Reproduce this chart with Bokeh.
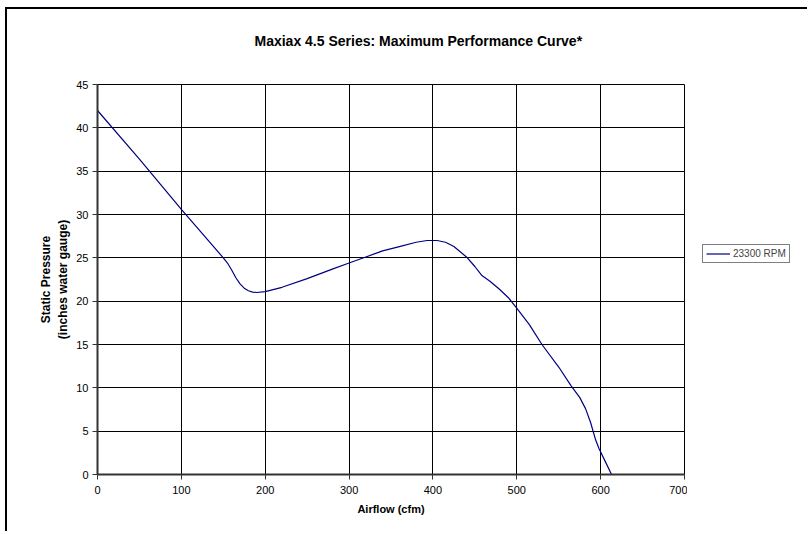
from bokeh.plotting import figure
from bokeh.models import Range1d, Legend, LegendItem, FixedTicker, Title
from bokeh.layouts import row
from bokeh.embed import file_html
from bokeh.resources import INLINE

airflow = [0, 50, 100, 150, 155, 160, 165, 170, 175, 180, 185, 190, 200, 220, 250, 280,
           300, 320, 340, 360, 380, 393, 405, 415, 425, 440, 450, 458, 468, 479, 490, 499,
           515, 530, 550, 565, 575, 582, 588, 594, 598, 605, 613]
pressure = [42.0, 36.4, 30.6, 25.0, 24.4, 23.6, 22.7, 22.0, 21.5, 21.2, 21.05, 21.0, 21.1,
            21.6, 22.6, 23.7, 24.4, 25.1, 25.8, 26.3, 26.8, 27.0, 27.0, 26.8, 26.3, 25.1,
            24.0, 23.0, 22.3, 21.4, 20.4, 19.3, 17.3, 15.0, 12.4, 10.2, 8.9, 7.6, 6.0,
            4.0, 3.0, 1.6, 0.0]
series_name = "23300 RPM"
x_ticks = [0, 100, 200, 300, 400, 500, 600, 700]
y_ticks = [0, 5, 10, 15, 20, 25, 30, 35, 40, 45]

FONT = "Liberation Sans"
LINE_COLOR = "#000080"

p = figure(width=680, height=522, output_backend="svg", toolbar_location=None,
           x_range=Range1d(0, 700), y_range=Range1d(0, 45),
           min_border_left=90, min_border_right=3, min_border_top=75, min_border_bottom=57)

p.title = Title(text="Maxiax 4.5 Series: Maximum Performance Curve*", align="left",
                text_font=FONT, text_font_size="14px", text_font_style="bold",
                text_color="black", standoff=10, offset=157)
# blank spacer between the title and the plot frame
p.add_layout(Title(text=" ", text_font=FONT, text_font_size="10px", standoff=18), "above")

p.background_fill_color = "white"
p.border_fill_color = "white"
p.outline_line_color = "black"
p.outline_line_width = 1

for ax in (p.xaxis[0], p.yaxis[0]):
    ax.axis_line_color = "#333333"
    ax.axis_line_width = 2
    ax.major_tick_line_color = "#333333"
    ax.major_tick_out = 5
    ax.major_tick_in = 0
    ax.minor_tick_out = 0
    ax.minor_tick_in = 0
    ax.major_label_text_font = FONT
    ax.major_label_text_font_size = "11px"
    ax.major_label_text_color = "black"
    ax.axis_label_text_font = FONT
    ax.axis_label_text_font_style = "bold"
    ax.axis_label_text_color = "black"

p.xaxis.ticker = FixedTicker(ticks=x_ticks)
p.yaxis.ticker = FixedTicker(ticks=y_ticks)
p.xaxis.axis_label = "Airflow (cfm)"
p.yaxis.axis_label = "Static Pressure\n(inches water gauge)"
p.xaxis.axis_label_text_font_size = "11px"
p.yaxis.axis_label_text_font_size = "12px"
p.xaxis.major_label_standoff = 6
p.yaxis.major_label_standoff = 4
p.xaxis.axis_label_standoff = 6
p.yaxis.axis_label_standoff = 3

p.xgrid.grid_line_color = "black"
p.ygrid.grid_line_color = "black"
p.xgrid.grid_line_width = 1
p.ygrid.grid_line_width = 1

p.line(airflow, pressure, line_color=LINE_COLOR, line_width=1.2)

# side panel holding the legend
p2 = figure(width=120, height=522, output_backend="svg", toolbar_location=None,
            x_range=Range1d(0, 1), y_range=Range1d(0, 1),
            min_border_left=0, min_border_right=0, min_border_top=0, min_border_bottom=0)
p2.axis.visible = False
p2.grid.visible = False
p2.outline_line_color = None
p2.background_fill_color = "white"
p2.border_fill_color = "white"
r2 = p2.line(x=[float("nan")], y=[float("nan")], line_color=LINE_COLOR, line_width=1.2)

legend = Legend(items=[LegendItem(label=series_name, renderers=[r2])],
                location=(15, 211), border_line_color="black", border_line_width=1,
                label_text_font=FONT, label_text_font_size="10px",
                glyph_width=24, glyph_height=11, padding=3, margin=0,
                label_standoff=3, spacing=0, label_height=11)
p2.add_layout(legend, "center")

layout = row(p, p2)
layout.styles = {"border-left": "2px solid black", "border-top": "2px solid black",
                 "margin-left": "5px", "margin-top": "7px"}

open("out.html", "w").write(file_html(layout, INLINE))
